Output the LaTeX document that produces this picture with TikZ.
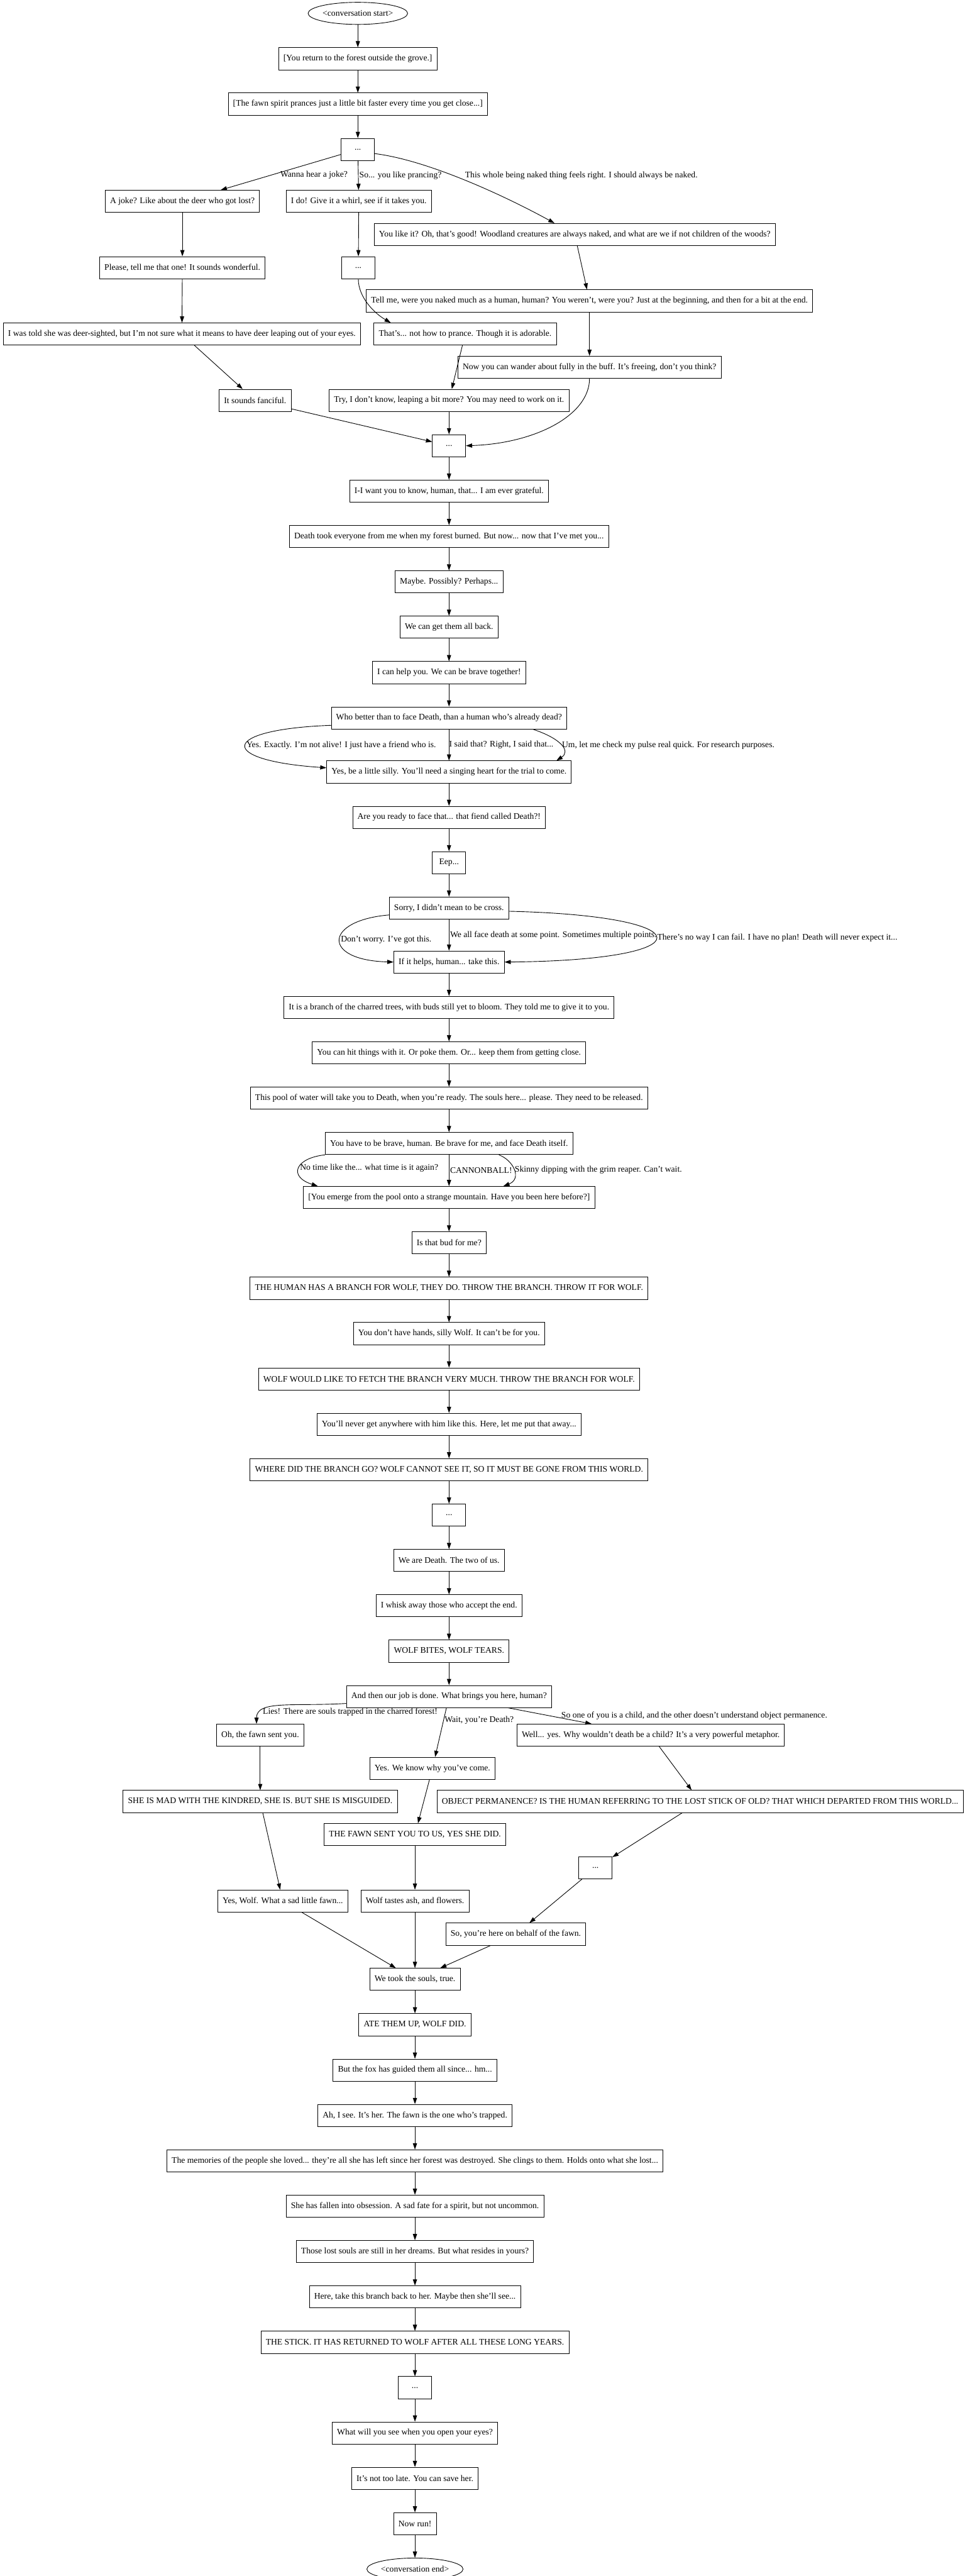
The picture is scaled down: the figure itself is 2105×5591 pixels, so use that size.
\documentclass[tikz,border=0pt]{standalone}
\usepackage{fontspec}
\setmainfont{Liberation Serif}
\usetikzlibrary{arrows.meta,shapes.geometric,positioning,calc}

\begin{document}
\begin{tikzpicture}[
    x=0.02cm, y=-0.02cm,
    node distance=0.985cm,
    box/.style={rectangle, draw=black, fill=white, text centered, minimum width=1.44cm, minimum height=0.96cm, inner xsep=0.21cm, inner ysep=0pt, font=\fontsize{10.6}{12}\selectfont},
    oval_box/.style={ellipse, draw=black, fill=white, minimum height=0.96cm, inner sep=0pt, font=\fontsize{10.6}{12}\selectfont},
    edge_lbl/.style={font=\fontsize{10.6}{12}\selectfont, inner sep=1pt, anchor=west},
    >={Triangle[length=0.27cm, width=0.18cm]},
    line width=0.7pt
]
\useasboundingbox (0,0) rectangle (2105,5591);

% --- OPENING ---
\node[oval_box] (conv_start) at (777,29) {<conversation start>};
\node[box, below=of conv_start] (l1) {[You return to the forest outside the grove.]};
\node[box, below=of l1] (l2) {[The fawn spirit prances just a little bit faster every time you get close...]};
\node[box, below=of l2] (l3) {...};

% --- BRANCH: joke / prancing / naked ---
\node[box] (l4) at (396,437) {A joke? Like about the deer who got lost?};
\node[box] (l5) at (779,437) {I do! Give it a whirl, see if it takes you.};
\node[box] (l6) at (1248,509) {You like it? Oh, that's good! Woodland creatures are always naked, and what are we if not children of the woods?};
\node[box] (l7) at (396,581) {Please, tell me that one! It sounds wonderful.};
\node[box] (l8) at (778,581) {...};
\node[box] (l9) at (1280,653) {Tell me, were you naked much as a human, human? You weren't, were you? Just at the beginning, and then for a bit at the end.};
\node[box] (l10) at (395,725) {I was told she was deer-sighted, but I'm not sure what it means to have deer leaping out of your eyes.};
\node[box] (l11) at (1010,725) {That's... not how to prance. Though it is adorable.};
\node[box] (l12) at (1280,797) {Now you can wander about fully in the buff. It's freeing, don't you think?};
\node[box] (l13) at (554,869) {It sounds fanciful.};
\node[box] (l14) at (975,869) {Try, I don't know, leaping a bit more? You may need to work on it.};

% --- MAIN LINE ---
\node[box, below=of l14] (l15) {...};
\node[box, below=of l15] (l16) {I-I want you to know, human, that... I am ever grateful.};
\node[box, below=of l16] (l17) {Death took everyone from me when my forest burned. But now... now that I've met you...};
\node[box, below=of l17] (l18) {Maybe. Possibly? Perhaps...};
\node[box, below=of l18] (l19) {We can get them all back.};
\node[box, below=of l19] (l20) {I can help you. We can be brave together!};
\node[box, below=of l20] (l21) {Who better than to face Death, than a human who's already dead?};
\node[box, below=1.36cm of l21] (l22) {Yes, be a little silly. You'll need a singing heart for the trial to come.};
\node[box, below=of l22] (l23) {Are you ready to face that... that fiend called Death?!};
\node[box, below=of l23] (l24) {Eep...};
\node[box, below=of l24] (l25) {Sorry, I didn't mean to be cross.};
\node[box, below=1.36cm of l25] (l26) {If it helps, human... take this.};
\node[box, below=of l26] (l27) {It is a branch of the charred trees, with buds still yet to bloom. They told me to give it to you.};
\node[box, below=of l27] (l28) {You can hit things with it. Or poke them. Or... keep them from getting close.};
\node[box, below=of l28] (l29) {This pool of water will take you to Death, when you're ready. The souls here... please. They need to be released.};
\node[box, below=of l29] (l30) {You have to be brave, human. Be brave for me, and face Death itself.};
\node[box, below=1.36cm of l30] (l31) {[You emerge from the pool onto a strange mountain. Have you been here before?]};
\node[box, below=of l31] (l32) {Is that bud for me?};
\node[box, below=of l32] (l33) {THE HUMAN HAS A BRANCH FOR WOLF, THEY DO. THROW THE BRANCH. THROW IT FOR WOLF.};
\node[box, below=of l33] (l34) {You don't have hands, silly Wolf. It can't be for you.};
\node[box, below=of l34] (l35) {WOLF WOULD LIKE TO FETCH THE BRANCH VERY MUCH. THROW THE BRANCH FOR WOLF.};
\node[box, below=of l35] (l36) {You'll never get anywhere with him like this. Here, let me put that away...};
\node[box, below=of l36] (l37) {WHERE DID THE BRANCH GO? WOLF CANNOT SEE IT, SO IT MUST BE GONE FROM THIS WORLD.};
\node[box, below=of l37] (l38) {...};
\node[box, below=of l38] (l39) {We are Death. The two of us.};
\node[box, below=of l39] (l40) {I whisk away those who accept the end.};
\node[box, below=of l40] (l41) {WOLF BITES, WOLF TEARS.};
\node[box, below=of l41] (l42) {And then our job is done. What brings you here, human?};

% --- BRANCH: what brings you here ---
\node[box] (l43) at (565,3766) {Oh, the fawn sent you.};
\node[box] (l44) at (1413,3766) {Well... yes. Why wouldn't death be a child? It's a very powerful metaphor.};
\node[box] (l45) at (939,3838) {Yes. We know why you've come.};
\node[box] (l46) at (565,3910) {SHE IS MAD WITH THE KINDRED, SHE IS. BUT SHE IS MISGUIDED.};
\node[box] (l47) at (1520,3910) {OBJECT PERMANENCE? IS THE HUMAN REFERRING TO THE LOST STICK OF OLD? THAT WHICH DEPARTED FROM THIS WORLD...};
\node[box] (l48) at (901,3982) {THE FAWN SENT YOU TO US, YES SHE DID.};
\node[box] (l49) at (1293,4054) {...};
\node[box] (l50) at (614,4126) {Yes, Wolf. What a sad little fawn...};
\node[box] (l51) at (901,4126) {Wolf tastes ash, and flowers.};
\node[box] (l52) at (1120,4198) {So, you're here on behalf of the fawn.};

% --- ENDING ---
\node[box] (l53) at (901,4296) {We took the souls, true.};
\node[box, below=of l53] (l54) {ATE THEM UP, WOLF DID.};
\node[box, below=of l54] (l55) {But the fox has guided them all since... hm...};
\node[box, below=of l55] (l56) {Ah, I see. It's her. The fawn is the one who's trapped.};
\node[box, below=of l56] (l57) {The memories of the people she loved... they're all she has left since her forest was destroyed. She clings to them. Holds onto what she lost...};
\node[box, below=of l57] (l58) {She has fallen into obsession. A sad fate for a spirit, but not uncommon.};
\node[box, below=of l58] (l59) {Those lost souls are still in her dreams. But what resides in yours?};
\node[box, below=of l59] (l60) {Here, take this branch back to her. Maybe then she'll see...};
\node[box, below=of l60] (l61) {THE STICK. IT HAS RETURNED TO WOLF AFTER ALL THESE LONG YEARS.};
\node[box, below=of l61] (l62) {...};
\node[box, below=of l62] (l63) {What will you see when you open your eyes?};
\node[box, below=of l63] (l64) {It's not too late. You can save her.};
\node[box, below=of l64] (l65) {Now run!};
\node[oval_box, below=of l65] (conv_end) {<conversation end>};

% Arrows
\draw[->] (conv_start) -- (l1);
\draw[->] (l1) -- (l2);
\draw[->] (l2) -- (l3);
\draw[->] (l3) -- node[edge_lbl, pos=0.57, xshift=0.3cm] (o1) {Wanna hear a joke?} (l4);
\draw[->] (l3) -- node[edge_lbl, midway] (o2) {So... you like prancing?} (l5);
\draw[->] ($(l3.east)+(0,9)$) .. controls +(120,15) and +(-100,-55) .. ($(l6.north)+(-44,0)$) node[edge_lbl, pos=0.42, xshift=0.5cm] (o3) {This whole being naked thing feels right. I should always be naked.};
\draw[->] (l4) -- (l7);
\draw[->] (l5) -- (l8);
\draw[->] (l6) -- (l9);
\draw[->] (l7) -- (l10);
\draw[->] (l8.south) .. controls +(0,40) and +(-35,-20) .. ($(l11.north west)+(37,0)$);
\draw[->] (l9) -- (l12);
\draw[->] (l10) -- (l13);
\draw[->] (l11) -- (l14);
\draw[->] (l13) -- (l15);
\draw[->] (l14) -- (l15);
\draw[->] (l12.south) .. controls +(0,80) and +(150,-5) .. (l15.east);

\draw[->] (l15) -- (l16);
\draw[->] (l16) -- (l17);
\draw[->] (l17) -- (l18);
\draw[->] (l18) -- (l19);
\draw[->] (l19) -- (l20);
\draw[->] (l20) -- (l21);
\draw[->] ($(l21.west)+(0,16)$) .. controls +(-244,9) and +(-238,-16) .. ($(l22.west)+(0,-9)$) node[edge_lbl, pos=0.5] (o4) {Yes. Exactly. I'm not alive! I just have a friend who is.};
\draw[->] (l21) -- node[edge_lbl, midway, inner sep=0pt] (o5) {I said that? Right, I said that...} (l22);
\draw[->] ($(l21.south east)+(-74,0)$) .. controls +(63,21) and +(31,-20) .. ($(l22.north east)+(-33,0)$) node[edge_lbl, pos=0.5] (o6) {Um, let me check my pulse real quick. For research purposes.};
\draw[->] (l22) -- (l23);
\draw[->] (l23) -- (l24);
\draw[->] (l24) -- (l25);
\draw[->] ($(l25.west)+(0,15)$) .. controls +(-142,12) and +(-156,-4) .. (l26.west) node[edge_lbl, pos=0.5] (o7) {Don't worry. I've got this.};
\draw[->] (l25) -- node[edge_lbl, midway] (o8) {We all face death at some point. Sometimes multiple points.} (l26);
\draw[->] ($(l25.east)+(0,7)$) .. controls +(426,10) and +(439,-4) .. (l26.east) node[edge_lbl, pos=0.5] (o9) {There's no way I can fail. I have no plan! Death will never expect it...};
\draw[->] (l26) -- (l27);
\draw[->] (l27) -- (l28);
\draw[->] (l28) -- (l29);
\draw[->] (l29) -- (l30);
\draw[->] (l30.south west) .. controls +(-65,7) and +(-65,-21) .. ($(l31.north west)+(32,0)$) node[edge_lbl, pos=0.5] (o10) {No time like the... what time is it again?};
\draw[->] (l30) -- node[edge_lbl, midway] (o11) {CANNONBALL!} (l31);
\draw[->] ($(l30.south east)+(-161,0)$) .. controls +(32,12) and +(41,-16) .. ($(l31.north east)+(-199,0)$) node[edge_lbl, pos=0.5] (o12) {Skinny dipping with the grim reaper. Can't wait.};
\draw[->] (l31) -- (l32);
\draw[->] (l32) -- (l33);
\draw[->] (l33) -- (l34);
\draw[->] (l34) -- (l35);
\draw[->] (l35) -- (l36);
\draw[->] (l36) -- (l37);
\draw[->] (l37) -- (l38);
\draw[->] (l38) -- (l39);
\draw[->] (l39) -- (l40);
\draw[->] (l40) -- (l41);
\draw[->] (l41) -- (l42);

\draw[->] ($(l42.west)+(0,15)$) .. controls +(-112,7) and +(0,-52) .. ($(l43.north)+(-8,0)$) node[edge_lbl, pos=0.78] (o13) {Lies! There are souls trapped in the charred forest!};
\draw[->] (l42) -- node[edge_lbl, pos=0.25] (o14) {Wait, you're Death?} (l45);
\draw[->] (l42) -- node[edge_lbl, midway, xshift=0.45cm] (o15) {So one of you is a child, and the other doesn't understand object permanence.} (l44);
\draw[->] (l43) -- (l46);
\draw[->] (l44) -- (l47);
\draw[->] (l45) -- (l48);
\draw[->] (l46) -- (l50);
\draw[->] (l47) -- (l49);
\draw[->] (l48) -- (l51);
\draw[->] (l49) -- (l52);
\draw[->] (l50) -- (l53);
\draw[->] (l51) -- (l53);
\draw[->] (l52) -- (l53);

\draw[->] (l53) -- (l54);
\draw[->] (l54) -- (l55);
\draw[->] (l55) -- (l56);
\draw[->] (l56) -- (l57);
\draw[->] (l57) -- (l58);
\draw[->] (l58) -- (l59);
\draw[->] (l59) -- (l60);
\draw[->] (l60) -- (l61);
\draw[->] (l61) -- (l62);
\draw[->] (l62) -- (l63);
\draw[->] (l63) -- (l64);
\draw[->] (l64) -- (l65);
\draw[->] (l65) -- (conv_end);

\end{tikzpicture}
\end{document}
